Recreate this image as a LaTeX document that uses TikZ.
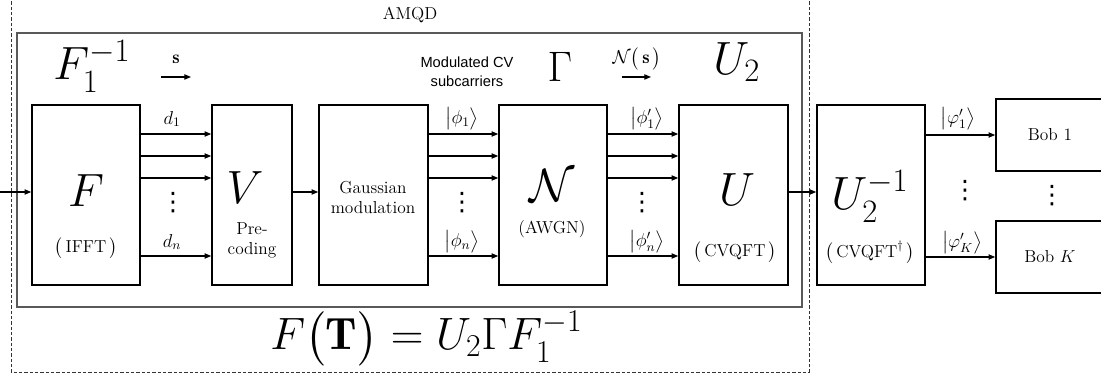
\documentclass[tikz,border=0pt]{standalone}
\usepackage{fix-cm}
\usepackage{amsmath, amssymb}
\usepackage{fontspec}
\newfontfamily\arialfont{Liberation Sans}
\newfontfamily\dejavufont{DejaVu Sans}
\usetikzlibrary{arrows.meta,positioning}

\newcommand{\tallvdots}{{\dejavufont\fontsize{19}{19}\selectfont ⋮}}

\begin{document}
\begin{tikzpicture}[x=0.75pt,y=-0.75pt]

% --- STYLES ---
\tikzset{
  blockbox/.style={draw=black, line width=1.2pt, minimum height=135pt, inner sep=0pt},
  bobbox/.style={draw=black, line width=1.2pt, minimum width=81pt, minimum height=54pt,
                 font=\fontsize{13}{15}\selectfont},
  amqdframe/.style={black!80, line width=0.6pt, dash pattern=on 2.5pt off 1.5pt},
  innerframe/.style={black!65, line width=0.9pt},
  bigmath/.style={font=\fontsize{35}{50}\selectfont, inner sep=0pt},
  lbl/.style={font=\fontsize{13}{15}\selectfont, align=center, inner sep=0pt},
  sanslbl/.style={font=\arialfont\fontsize{11}{14.3}\selectfont, align=center, inner sep=0pt},
  ketlbl/.style={font=\fontsize{14}{22}\selectfont, inner sep=0pt},
  dotlbl/.style={inner sep=0pt},
  arr/.style={black, line width=0.8pt, -{Triangle[length=5pt, width=4pt]}},
}

\useasboundingbox (0,0) rectangle (1101,377);

% ================= FRAMES =================
\draw[amqdframe] (11,-4) rectangle (809,372);
\draw[innerframe] (17,33) rectangle (802,307);
\node[lbl] (amqd) at (410,15) {AMQD};

% ================= BLOCKS =================
\node[blockbox, minimum width=81pt]    (fbox)    at (86,195)    {};
\node[blockbox, minimum width=60pt]    (vbox)    at (252,195)   {};
\node[blockbox, minimum width=81.75pt] (gbox)    at (373.5,195) {};
\node[blockbox, minimum width=81pt]    (nbox)    at (553,195)   {};
\node[blockbox, minimum width=81.75pt] (ubox)    at (733.5,195) {};
\node[blockbox, minimum width=81pt]    (uinvbox) at (871,195)   {};

\node[bobbox] (bob1) at (1050,135) {Bob 1};
\node[bobbox] (bobk) at (1050,257) {Bob $K$};

% --- block contents ---
\node[bigmath] (fsym)  at (86,191)  {$F$};
\node[lbl]     (ifft)  at (86,248)  {$\bigl(\,\text{IFFT}\,\bigr)$};
\node[bigmath] (vsym)  at (245,188) {$V$};
\node[lbl]     (precod) at (252,240) {Pre-\\coding};
\node[lbl]     (gmod)  at (373,197) {Gaussian\\modulation};
\node[bigmath] (nsym)  at (552,186) {$\mathcal{N}$};
\node[lbl]     (awgn)  at (552,229) {(AWGN)};
\node[bigmath] (usym)  at (737,190) {$U$};
\node[lbl]     (cvqft) at (735,252) {$\bigl(\,\text{CVQFT}\,\bigr)$};
\node[bigmath, anchor=base west] (uinvsym) at (831,210) {$U_2^{-1}$};
\node[lbl]     (cvqftd) at (870,252) {$\bigl(\,\text{CVQFT}^{\dagger}\,\bigr)$};

% ================= TOP LABELS =================
\node[bigmath, anchor=base west] (finvlbl) at (53,80) {$F_1^{-1}$};
\node[ketlbl] (slbl) at (176,59) {$\mathbf{s}$};
\coordinate (sstart) at (161,77);
\coordinate (send)   at (191,77);
\draw[arr] (sstart) -- (send);

\node[sanslbl] (modlbl) at (467,72) {Modulated CV\\subcarriers};
\node[font=\fontsize{32}{38}\selectfont, inner sep=0pt] (gamma) at (560,67) {$\Gamma$};
\node[ketlbl] (nslbl) at (637,59) {$\mathcal{N}\bigl(\,\mathbf{s}\,\bigr)$};
\coordinate (nsstart) at (622,77);
\coordinate (nsend)   at (651,77);
\draw[arr] (nsstart) -- (nsend);
\node[bigmath, anchor=base west] (u2lbl) at (713,75) {$U_2$};

% ================= ROWS =================
\coordinate (row1) at (0,134);
\coordinate (row2) at (0,156);
\coordinate (row3) at (0,178);
\coordinate (rown) at (0,256);
\coordinate (mid)  at (0,192);
\coordinate (input) at (-1,192);

\foreach \r in {row1,row2,row3,rown} {
  \draw[arr] (fbox.east |- \r) -- (vbox.west |- \r);
  \draw[arr] (gbox.east |- \r) -- (nbox.west |- \r);
  \draw[arr] (nbox.east |- \r) -- (ubox.west |- \r);
}
\draw[arr] (input) -- (fbox.west |- mid);
\draw[arr] (vbox.east |- mid) -- (gbox.west |- mid);
\draw[arr] (ubox.east |- mid) -- (uinvbox.west |- mid);
\draw[arr] (uinvbox.east |- bob1) -- (bob1.west);
\draw[arr] (uinvbox.east |- bobk) -- (bobk.west);

% --- arrow labels ---
\node[ketlbl] (d1)    at (172,119) {$d_1$};
\node[ketlbl] (dn)    at (172,242) {$d_n$};
\node[ketlbl] (phi1)  at (462,119) {$\bigl|\phi_1\bigr\rangle$};
\node[ketlbl] (phin)  at (462,242) {$\bigl|\phi_n\bigr\rangle$};
\node[ketlbl] (phip1) at (647,119) {$\bigl|\phi'_1\bigr\rangle$};
\node[ketlbl] (phipn) at (647,242) {$\bigl|\phi'_n\bigr\rangle$};
\node[ketlbl] (vphi1) at (958,119) {$\bigl|\varphi'_1\bigr\rangle$};
\node[ketlbl] (vphik) at (962,243) {$\bigl|\varphi'_K\bigr\rangle$};

\node[dotlbl] (dotsd)   at (173,203)  {\tallvdots};
\node[dotlbl] (dotsphi) at (462,203)  {\tallvdots};
\node[dotlbl] (dotsphp) at (642,203)  {\tallvdots};
\node[dotlbl] (dotsout) at (965,191)  {\tallvdots};
\node[dotlbl] (dotsbob) at (1052,196) {\tallvdots};

% ================= BOTTOM FORMULA =================
\node[bigmath, font=\fontsize{34}{50}\selectfont, anchor=base west] (ftlbl) at (270,350)
  {$F\bigl(\mathbf{T}\bigr)=U_2\Gamma F_1^{-1}$};

\end{tikzpicture}
\end{document}
